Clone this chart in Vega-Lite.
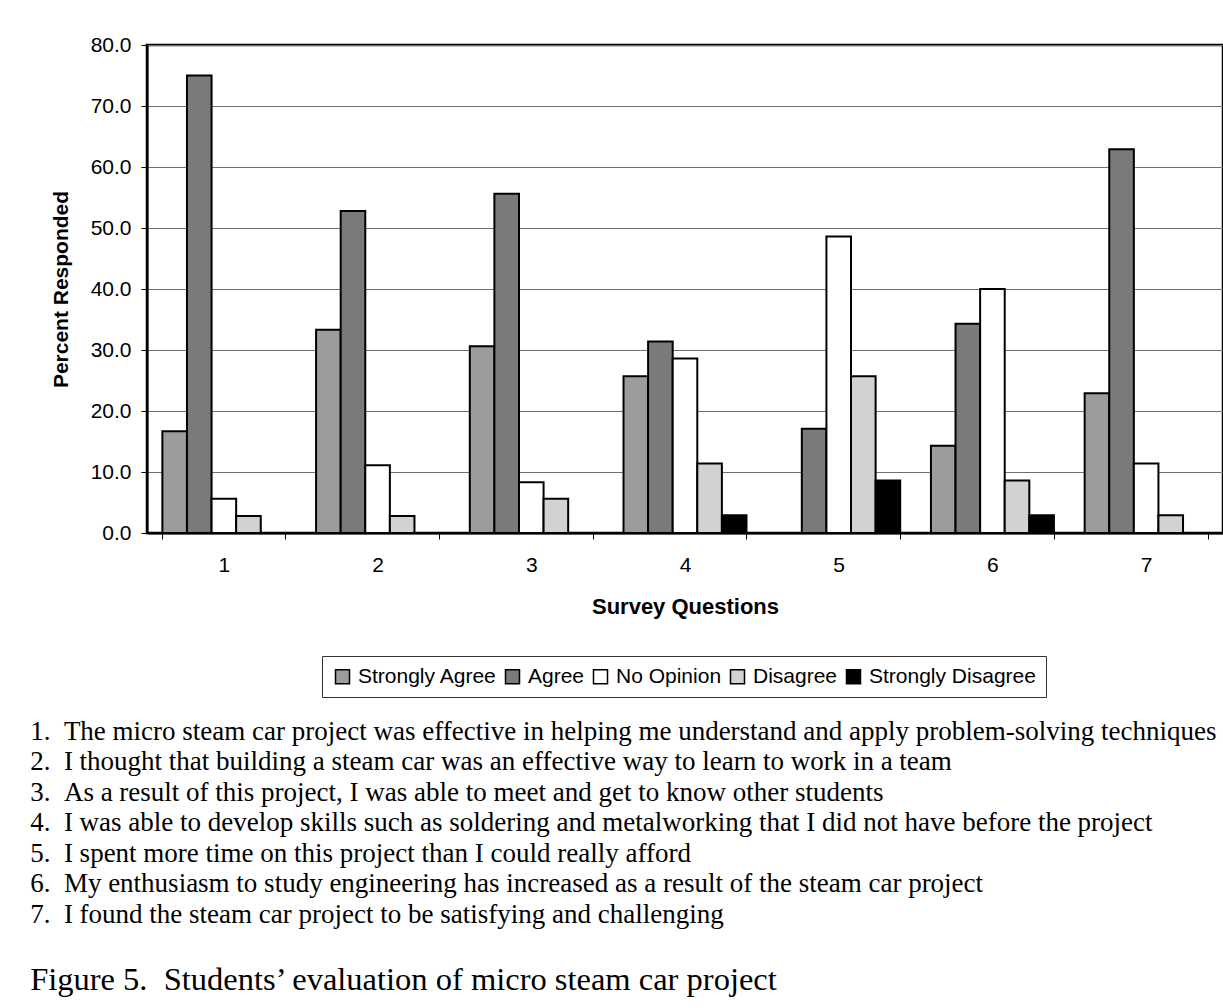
{
  "$schema": "https://vega.github.io/schema/vega-lite/v6.json",
  "autosize": "none",
  "padding": {"left": 147, "top": 45, "right": 0, "bottom": 475},
  "width": 1076,
  "height": 488,
  "background": "white",
  "data": {
    "values": [
      {"q": "1", "response": "Strongly Agree", "pct": 16.7},
      {"q": "1", "response": "Agree", "pct": 75.0},
      {"q": "1", "response": "No Opinion", "pct": 5.6},
      {"q": "1", "response": "Disagree", "pct": 2.8},
      {"q": "2", "response": "Strongly Agree", "pct": 33.3},
      {"q": "2", "response": "Agree", "pct": 52.8},
      {"q": "2", "response": "No Opinion", "pct": 11.1},
      {"q": "2", "response": "Disagree", "pct": 2.8},
      {"q": "3", "response": "Strongly Agree", "pct": 30.6},
      {"q": "3", "response": "Agree", "pct": 55.6},
      {"q": "3", "response": "No Opinion", "pct": 8.3},
      {"q": "3", "response": "Disagree", "pct": 5.6},
      {"q": "4", "response": "Strongly Agree", "pct": 25.7},
      {"q": "4", "response": "Agree", "pct": 31.4},
      {"q": "4", "response": "No Opinion", "pct": 28.6},
      {"q": "4", "response": "Disagree", "pct": 11.4},
      {"q": "4", "response": "Strongly Disagree", "pct": 2.9},
      {"q": "5", "response": "Agree", "pct": 17.1},
      {"q": "5", "response": "No Opinion", "pct": 48.6},
      {"q": "5", "response": "Disagree", "pct": 25.7},
      {"q": "5", "response": "Strongly Disagree", "pct": 8.6},
      {"q": "6", "response": "Strongly Agree", "pct": 14.3},
      {"q": "6", "response": "Agree", "pct": 34.3},
      {"q": "6", "response": "No Opinion", "pct": 40.0},
      {"q": "6", "response": "Disagree", "pct": 8.6},
      {"q": "6", "response": "Strongly Disagree", "pct": 2.9},
      {"q": "7", "response": "Strongly Agree", "pct": 22.9},
      {"q": "7", "response": "Agree", "pct": 62.9},
      {"q": "7", "response": "No Opinion", "pct": 11.4},
      {"q": "7", "response": "Disagree", "pct": 2.9}
    ]
  },
  "mark": {"type": "bar", "stroke": "black", "strokeWidth": 2, "opacity": 1},
  "encoding": {
    "x": {
      "field": "q",
      "type": "nominal",
      "scale": {"paddingInner": 0.2, "paddingOuter": 0.1},
      "axis": {
        "title": "Survey Questions",
        "labelAngle": 0,
        "labelFont": "Liberation Sans",
        "labelFontSize": 21,
        "labelColor": "black",
        "labelPadding": 15,
        "tickBand": "extent",
        "tickSize": 6,
        "tickColor": "black",
        "tickWidth": 1,
        "domainColor": "black",
        "domainWidth": 2,
        "titleFont": "Liberation Sans",
        "titleFontSize": 22,
        "titleFontWeight": "bold",
        "titleColor": "black",
        "titlePadding": 21
      }
    },
    "xOffset": {
      "field": "response",
      "type": "nominal",
      "scale": {"domain": ["Strongly Agree", "Agree", "No Opinion", "Disagree", "Strongly Disagree"], "paddingInner": 0, "paddingOuter": 0}
    },
    "y": {
      "field": "pct",
      "type": "quantitative",
      "scale": {"domain": [0, 80], "nice": false},
      "axis": {
        "title": "Percent Responded",
        "values": [0, 10, 20, 30, 40, 50, 60, 70, 80],
        "format": ".1f",
        "labelFont": "Liberation Sans",
        "labelFontSize": 21,
        "labelColor": "black",
        "labelPadding": 10,
        "tickSize": 6,
        "tickColor": "black",
        "tickWidth": 1,
        "domainColor": "black",
        "domainWidth": 2,
        "grid": true,
        "gridColor": "#707070",
        "gridWidth": 1.2,
        "titleFont": "Liberation Sans",
        "titleFontSize": 21,
        "titleFontWeight": "bold",
        "titleColor": "black",
        "titlePadding": 19
      }
    },
    "color": {
      "field": "response",
      "type": "nominal",
      "scale": {
        "domain": ["Strongly Agree", "Agree", "No Opinion", "Disagree", "Strongly Disagree"],
        "range": ["#9c9c9c", "#7a7a7a", "#ffffff", "#d2d2d2", "#000000"]
      },
      "legend": {
        "title": null,
        "orient": "none",
        "legendX": 175,
        "legendY": 611,
        "direction": "horizontal",
        "symbolType": "square",
        "symbolSize": 196,
        "symbolStrokeColor": "black",
        "symbolStrokeWidth": 1.5,
        "symbolOpacity": 1,
        "labelFont": "Liberation Sans",
        "labelFontSize": 21,
        "labelColor": "black",
        "labelLimit": 400,
        "labelOffset": 5,
        "columnPadding": 5,
        "padding": 10,
        "strokeColor": "#333333",
        "fillColor": "white"
      }
    }
  },
  "title": {
    "text": [
      "1.\u00a0\u00a0The micro steam car project was effective in helping me understand and apply problem-solving techniques",
      "2.\u00a0\u00a0I thought that building a steam car was an effective way to learn to work in a team",
      "3.\u00a0\u00a0As a result of this project, I was able to meet and get to know other students",
      "4.\u00a0\u00a0I was able to develop skills such as soldering and metalworking that I did not have before the project",
      "5.\u00a0\u00a0I spent more time on this project than I could really afford",
      "6.\u00a0\u00a0My enthusiasm to study engineering has increased as a result of the steam car project",
      "7.\u00a0\u00a0I found the steam car project to be satisfying and challenging"
    ],
    "subtitle": "Figure 5.\u00a0\u00a0Students’ evaluation of micro steam car project",
    "orient": "bottom",
    "anchor": "start",
    "frame": "bounds",
    "offset": 21,
    "dx": -20,
    "font": "Liberation Serif",
    "fontSize": 27,
    "fontWeight": "normal",
    "color": "black",
    "lineHeight": 30.5,
    "subtitleFont": "Liberation Serif",
    "subtitleFontSize": 32.5,
    "subtitleColor": "black",
    "subtitlePadding": 35
  },
  "config": {
    "view": {"stroke": "black", "strokeWidth": 2.5}
  }
}
